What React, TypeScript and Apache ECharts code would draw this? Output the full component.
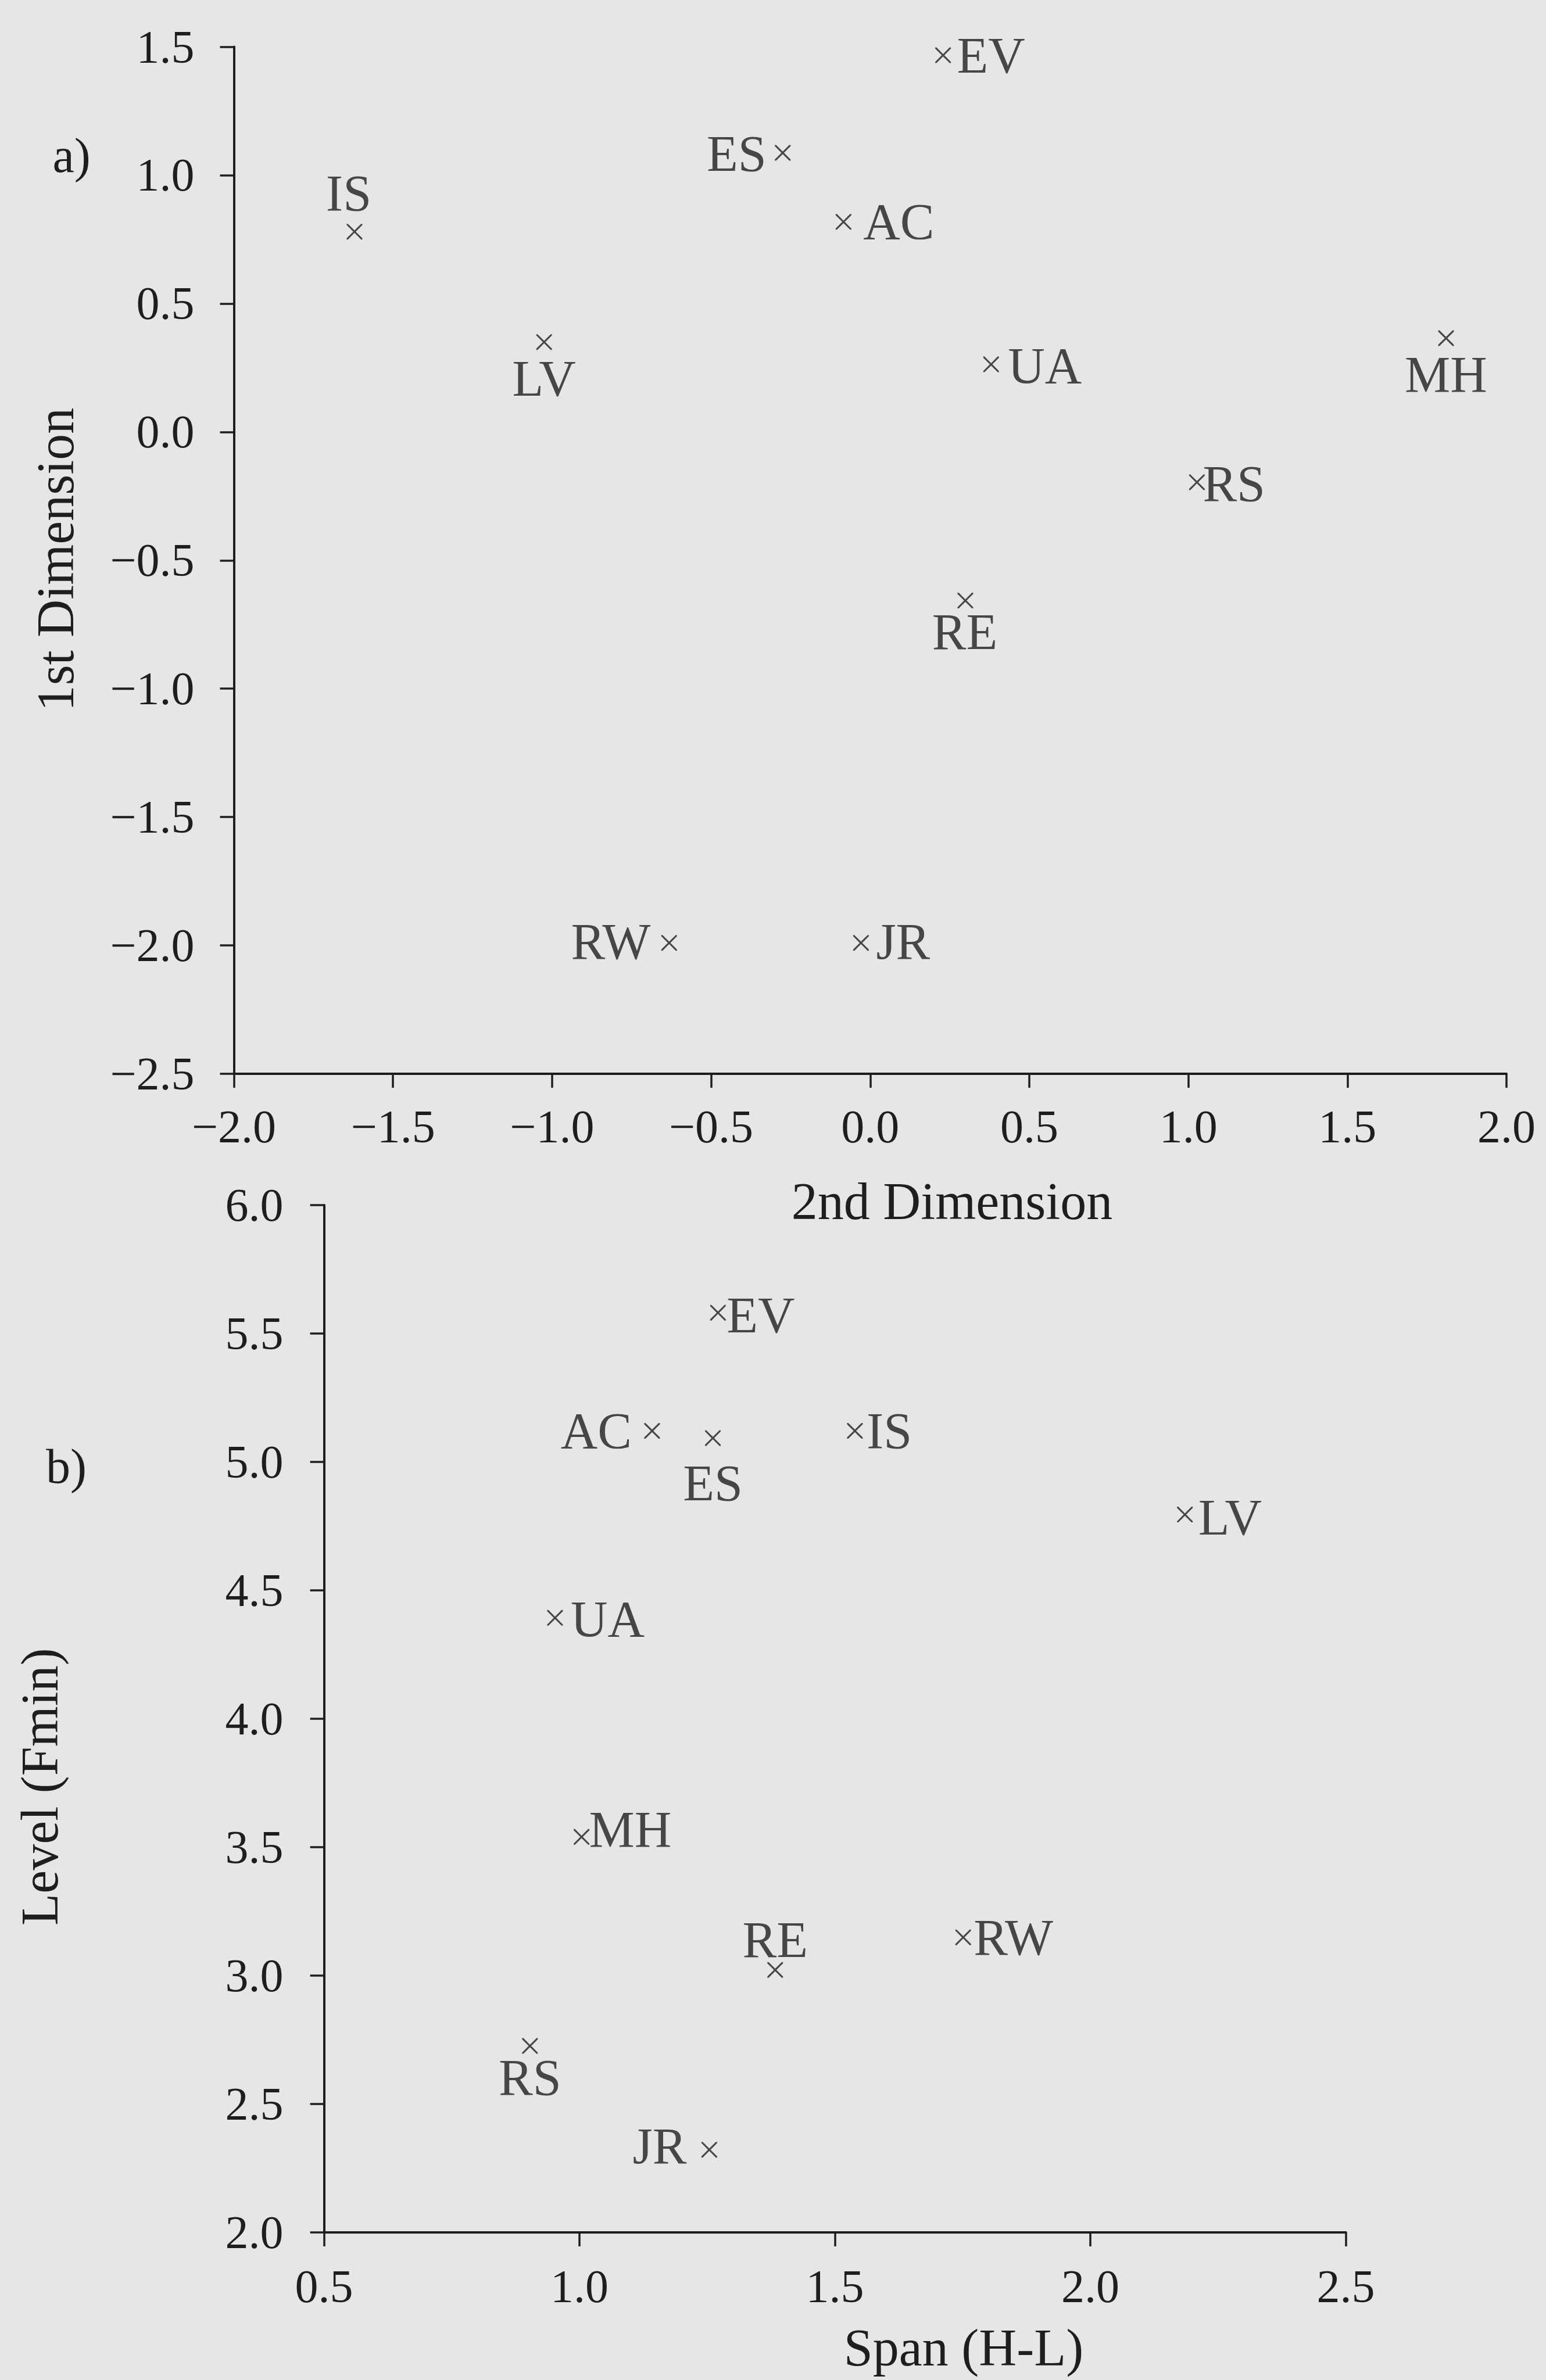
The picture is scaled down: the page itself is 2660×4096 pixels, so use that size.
import React, { useEffect, useRef } from "react";
import * as echarts from "echarts";

// Panel a) : MDS configuration
const NAMES_A = ["EV", "ES", "AC", "IS", "LV", "UA", "MH", "RS", "RE", "RW", "JR"];
const DIM2_A = [0.229, -0.275, -0.084, -1.621, -1.025, 0.38, 1.81, 1.027, 0.299, -0.632, -0.029];
const DIM1_A = [1.467, 1.087, 0.818, 0.78, 0.35, 0.263, 0.365, -0.196, -0.657, -1.99, -1.99];

// Panel b) : Span vs Level
const NAMES_B = ["EV", "AC", "ES", "IS", "LV", "UA", "MH", "RE", "RW", "RS", "JR"];
const SPAN_B = [1.271, 1.142, 1.261, 1.539, 2.185, 0.952, 1.004, 1.383, 1.751, 0.903, 1.254];
const LEVEL_B = [5.581, 5.121, 5.093, 5.121, 4.795, 4.393, 3.54, 3.022, 3.149, 2.726, 2.322];

// label placement (text alignment, dx, dy) relative to each marker
const PLACE_A: [string, number, number][] = [
  ["left", 24, 0], ["right", -28, 2], ["left", 34, 0], ["center", -10, -66],
  ["center", 0, 63], ["left", 29, 2], ["center", 0, 62], ["left", 10, 3],
  ["center", -1, 54], ["right", -32, -2], ["left", 26, -2],
];
const PLACE_B: [string, number, number][] = [
  ["left", 15, 4], ["right", -35, 0], ["center", 0, 78], ["left", 20, 0],
  ["left", 23, 5], ["left", 27, 2], ["left", 13, -13], ["center", 0, -52],
  ["left", 18, 0], ["center", 0, 54], ["right", -39, -6],
];

const FONT = "'Liberation Serif', 'DejaVu Serif', serif";
const INK = "#1e1e1e";
const BG = "#e6e6e6";
const CROSS =
  "path://M0 0L8 0L50 42L92 0L100 0L100 8L58 50L100 92L100 100L92 100L50 58L8 100L0 100L0 92L42 50L0 8Z";

const fmt = (v: number) => v.toFixed(1).replace("-", "\u2212");

function buildData(names: string[], xs: number[], ys: number[], place: [string, number, number][]) {
  return names.map((n, i) => ({
    name: n,
    value: [xs[i], ys[i]],
    label: {
      show: true,
      formatter: n,
      position: "inside",
      align: place[i][0],
      verticalAlign: "middle",
      offset: [place[i][1], place[i][2]],
      color: INK,
      fontFamily: FONT,
      fontSize: 88,
    },
  }));
}

function axisCommon(margin: number) {
  return {
    type: "value",
    interval: 0.5,
    axisLine: { show: true, onZero: false, lineStyle: { color: INK, width: 4 } },
    axisTick: { show: true, length: 24, lineStyle: { color: INK, width: 3.5 } },
    splitLine: { show: false },
    axisLabel: {
      show: true,
      margin,
      color: INK,
      fontFamily: FONT,
      fontSize: 80,
      formatter: fmt,
      showMinLabel: true,
      showMaxLabel: true,
    },
  };
}

export default function App() {
  const ref = useRef<HTMLDivElement>(null);
  useEffect(() => {
    if (!ref.current) return;
    document.body.style.margin = "0";
    document.body.style.background = BG;
    const chart = echarts.init(ref.current, undefined, { renderer: "svg" });
    const option: any = {
      animation: false,
      backgroundColor: BG,
      grid: [
        { left: 402.5, top: 80.5, width: 2189.5, height: 1767.5 },
        { left: 557.6, top: 2074, width: 1758, height: 1768 },
      ],
      xAxis: [
        { ...axisCommon(51), gridIndex: 0, min: -2, max: 2 },
        { ...axisCommon(53), gridIndex: 1, min: 0.5, max: 2.5 },
      ],
      yAxis: [
        { ...axisCommon(68), gridIndex: 0, min: -2.5, max: 1.5 },
        { ...axisCommon(70), gridIndex: 1, min: 2, max: 6 },
      ],
      series: [
        {
          type: "scatter",
          xAxisIndex: 0,
          yAxisIndex: 0,
          symbol: CROSS,
          symbolSize: 27,
          itemStyle: { color: INK },
          data: buildData(NAMES_A, DIM2_A, DIM1_A, PLACE_A),
        },
        {
          type: "scatter",
          xAxisIndex: 1,
          yAxisIndex: 1,
          symbol: CROSS,
          symbolSize: 27,
          itemStyle: { color: INK },
          data: buildData(NAMES_B, SPAN_B, LEVEL_B, PLACE_B),
        },
      ],
      graphic: [
        {
          type: "text",
          x: 123,
          y: 267,
          style: { text: "a)", fill: INK, font: `84px ${FONT}`, align: "center", verticalAlign: "middle" },
        },
        {
          type: "text",
          x: 114,
          y: 2523,
          style: { text: "b)", fill: INK, font: `84px ${FONT}`, align: "center", verticalAlign: "middle" },
        },
        {
          type: "text",
          x: 1638,
          y: 2067,
          style: { text: "2nd Dimension", fill: INK, font: `90px ${FONT}`, align: "center", verticalAlign: "middle" },
        },
        {
          type: "text",
          x: 1658,
          y: 4040,
          style: { text: "Span (H-L)", fill: INK, font: `90px ${FONT}`, align: "center", verticalAlign: "middle" },
        },
        {
          type: "text",
          x: 95,
          y: 963,
          rotation: Math.PI / 2,
          style: { text: "1st Dimension", fill: INK, font: `90px ${FONT}`, align: "center", verticalAlign: "middle" },
        },
        {
          type: "text",
          x: 68,
          y: 3075,
          rotation: Math.PI / 2,
          style: { text: "Level (Fmin)", fill: INK, font: `90px ${FONT}`, align: "center", verticalAlign: "middle" },
        },
      ],
    };
    chart.setOption(option);
    return () => chart.dispose();
  }, []);
  return (
    <div
      ref={ref}
      style={{ position: "absolute", left: 0, top: 0, width: 2660, height: 4096, background: BG }}
    />
  );
}
